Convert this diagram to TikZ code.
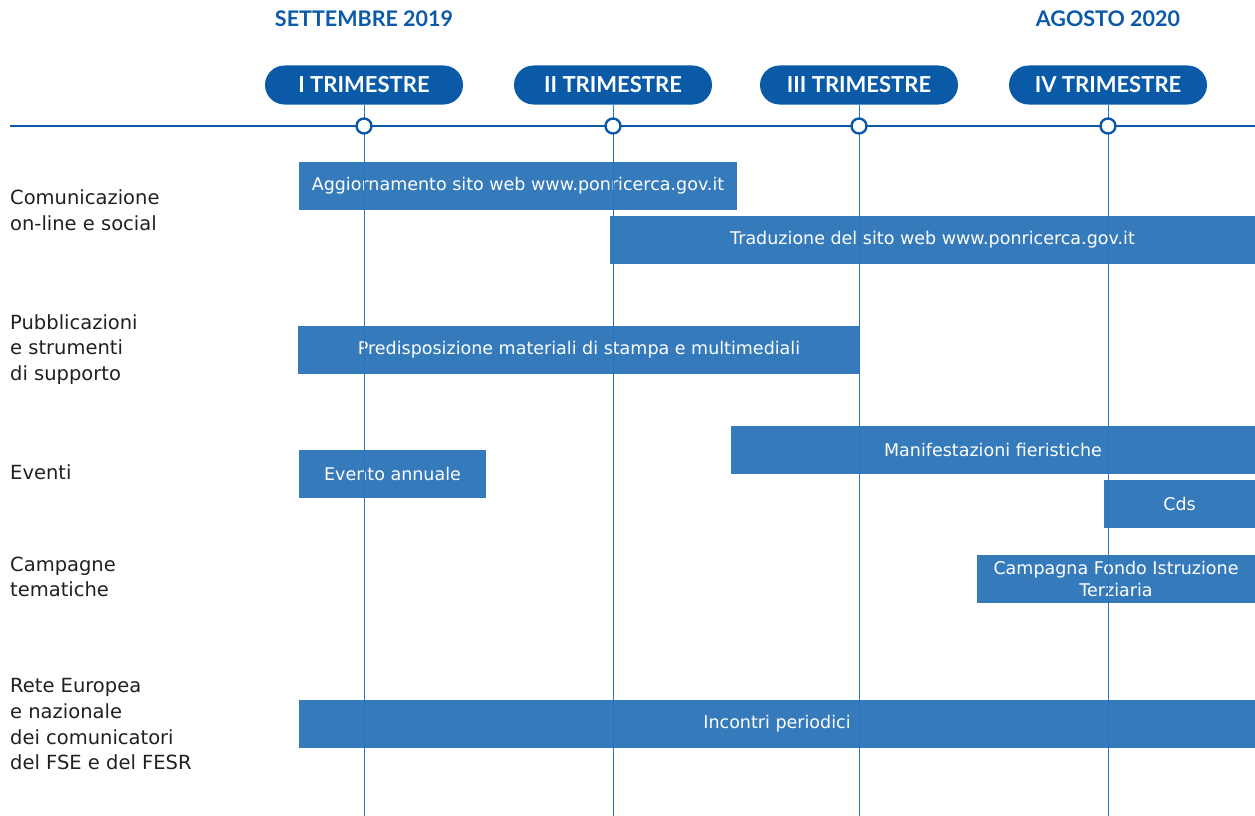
\documentclass[tikz,border=0pt]{standalone}
\usepackage{fontspec}
\setmainfont{DejaVu Sans}
\newfontfamily\headfont{Lato}
\usepackage{xcolor}
\usepackage{tikz}
\definecolor{navy}{HTML}{0B5AA8}
\definecolor{barblue}{HTML}{357ABB}
\definecolor{gridblue}{HTML}{2873C0}
\definecolor{ink}{HTML}{231F20}
\tikzset{
  axis/.style={draw=navy, line width=2.2pt},
  grid/.style={draw=gridblue, line width=1pt},
  pill/.style={fill=navy, text=white, rounded corners=19.5pt, minimum width=198pt,
    minimum height=39pt, inner sep=0pt, font=\headfont\fontsize{22}{22}\selectfont\bfseries},
  dot/.style={circle, draw=navy, fill=white, line width=2.4pt, minimum size=15pt, inner sep=0pt},
  head/.style={text=navy, font=\headfont\fontsize{21.5}{21.5}\selectfont\bfseries},
  bar/.style={fill=barblue, text=white, minimum height=48pt, inner sep=0pt, align=center,
    font=\fontsize{17.5}{22}\selectfont},
  lab/.style={text=ink, anchor=north west, align=left, inner sep=0pt,
    font=\fontsize{19.5}{25.8}\selectfont},
}
\begin{document}
\begin{tikzpicture}[x=1pt, y=-1pt]
\useasboundingbox (0,0) rectangle (1255,816);
% testate
\node[head] (start) at (364,19) {SETTEMBRE 2019};
\node[head] (stop) at (1108,19) {AGOSTO 2020};
\node[pill] (t1) at (364,85) {I TRIMESTRE};
\node[pill] (t2) at (613,85) {II TRIMESTRE};
\node[pill] (t3) at (859,85) {III TRIMESTRE};
\node[pill] (t4) at (1108,85) {IV TRIMESTRE};
% attivita
\node[bar, minimum width=438pt] (agg) at (518,186) {Aggiornamento sito web www.ponricerca.gov.it};
\node[bar, minimum width=645pt] (trad) at (932.5,239.5) {Traduzione del sito web www.ponricerca.gov.it};
\node[bar, minimum width=562pt] (mat) at (579,350) {Predisposizione materiali di stampa e multimediali};
\node[bar, minimum width=524pt] (fiere) at (993,449.5) {Manifestazioni fieristiche};
\node[bar, minimum width=187pt] (evento) at (392.5,474) {Evento annuale};
\node[bar, minimum width=151pt] (cds) at (1179.5,503.5) {Cds};
\node[bar, minimum width=278pt] (campagna) at (1116,578.5) {Campagna Fondo Istruzione\\Terziaria};
\node[bar, minimum width=956pt] (incontri) at (777,724) {Incontri periodici};
% righe verticali
\coordinate (b1) at (364,816);
\coordinate (b2) at (613,816);
\coordinate (b3) at (859,816);
\coordinate (b4) at (1108,816);
\draw[grid] (t1.south) -- (b1);
\draw[grid] (t2.south) -- (b2);
\draw[grid] (t3.south) -- (b3);
\draw[grid] (t4.south) -- (b4);
% asse
\coordinate (l) at (10,126);
\coordinate (r) at (1255,126);
\draw[axis] (l) -- (r);
\node[dot] (c1) at (364,126) {};
\node[dot] (c2) at (613,126) {};
\node[dot] (c3) at (859,126) {};
\node[dot] (c4) at (1108,126) {};
% voci
\node[lab] (com) at (10,189.4) {Comunicazione\\on-line e social};
\node[lab] (pub) at (10,314) {Pubblicazioni\\e strumenti\\di supporto};
\node[lab] (eve) at (10,464.4) {Eventi};
\node[lab] (cam) at (10,556.4) {Campagne\\tematiche};
\node[lab] (rete) at (10,678) {Rete Europea\\e nazionale\\dei comunicatori\\del FSE e del FESR};
\end{tikzpicture}
\end{document}
